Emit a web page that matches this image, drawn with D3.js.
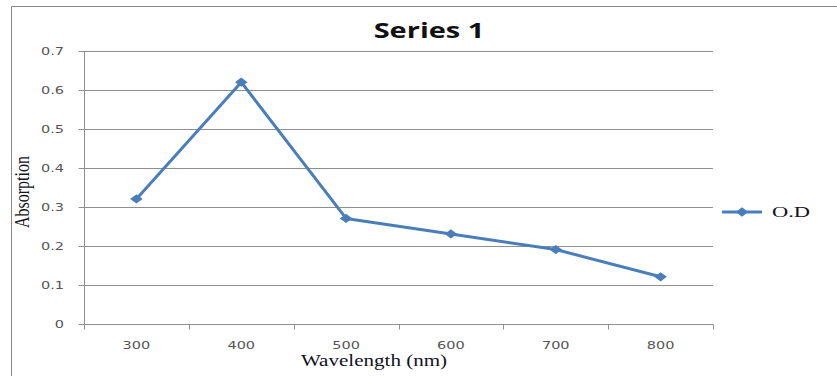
<!DOCTYPE html>
<html>
<head>
<meta charset="utf-8">
<script src="https://cdn.jsdelivr.net/npm/d3@7"></script>
<style>
  html, body { margin: 0; padding: 0; background: #fff; }
  svg { display: block; }
</style>
</head>
<body>
<svg id="chart" width="837" height="376"></svg>
<script>
// Absorption spectrum, one series
const wavelengths = ["300", "400", "500", "600", "700", "800"];
const absorption = [0.32, 0.62, 0.27, 0.23, 0.19, 0.12];
const yTicks = [0, 0.1, 0.2, 0.3, 0.4, 0.5, 0.6, 0.7];
const seriesName = "O.D";
const chartTitle = "Series 1";

(function () {
const svg = d3.select("#chart");
const plotLeft = 84, plotRight = 713, plotTop = 51, plotBottom = 323.5;
const gridColor = "#8e8e8e";
const lineColor = "#4a7ebb";
const tickFont = "DejaVu Sans, Verdana, sans-serif";
const serifFont = "Liberation Serif, Times New Roman, serif";
const stretch = 1.45; // the whole drawing is wider than tall, text included

// outer frame (left and top edges)
svg.append("path")
  .attr("d", "M11.5,376 L11.5,6.5 L837,6.5")
  .attr("fill", "none").attr("stroke", "#8a8a8a").attr("stroke-width", 1);

const x = d3.scaleBand().domain(wavelengths).range([plotLeft, plotRight]);
const y = d3.scaleLinear().domain([0, 0.7]).range([plotBottom, plotTop]);
const py = v => Math.round(y(v)) + 0.5;

// horizontal gridlines
svg.append("g").selectAll("line").data(yTicks.filter(d => d > 0)).join("line")
  .attr("x1", plotLeft).attr("x2", plotRight)
  .attr("y1", py).attr("y2", py)
  .attr("stroke", gridColor).attr("stroke-width", 1);

// y axis: ticks from the axis generator, labels drawn wide
const yAxis = d3.axisLeft(y).tickValues(yTicks).tickSize(6).tickFormat("");
const gy = svg.append("g").attr("transform", `translate(${plotLeft + 0.5},0)`).call(yAxis);
gy.selectAll("path, line").attr("stroke", gridColor);
gy.select(".domain").attr("d", `M0,${py(0.7)}V${py(0)}`);
gy.selectAll(".tick").attr("transform", d => `translate(0,${py(d)})`);

svg.append("g").selectAll("text").data(yTicks).join("text")
  .attr("transform", d => `translate(${plotLeft - 20},${py(d) + 3.5}) scale(${stretch},1)`)
  .attr("text-anchor", "end")
  .attr("font-family", tickFont).attr("font-size", 10).attr("fill", "#555")
  .text(d => d === 0 ? "0" : d3.format(".1f")(d));

// x axis with ticks at band edges
const gx = svg.append("g").attr("transform", `translate(0,${py(0)})`);
gx.append("line").attr("x1", plotLeft).attr("x2", plotRight + 0.5).attr("stroke", gridColor);
const edges = wavelengths.map(d => x(d)).concat([plotRight]);
gx.selectAll("line.tick").data(edges).join("line").attr("class", "tick")
  .attr("x1", d => Math.round(d) + 0.5).attr("x2", d => Math.round(d) + 0.5)
  .attr("y1", 0).attr("y2", 5).attr("stroke", gridColor);
gx.selectAll("text").data(wavelengths).join("text")
  .attr("transform", d => `translate(${x(d) + x.bandwidth() / 2},24) scale(${stretch},1)`)
  .attr("text-anchor", "middle")
  .attr("font-family", tickFont).attr("font-size", 10).attr("fill", "#555")
  .text(d => d);

// data line
const cx = d => x(d) + x.bandwidth() / 2;
const line = d3.line().x((d, i) => cx(wavelengths[i])).y(d => y(d));
svg.append("path").datum(absorption)
  .attr("d", line).attr("fill", "none")
  .attr("stroke", lineColor).attr("stroke-width", 3).attr("stroke-linejoin", "round");

const diamond = d3.symbol().type(d3.symbolDiamond2).size(55);
svg.append("g").selectAll("path").data(absorption).join("path")
  .attr("d", diamond)
  .attr("transform", (d, i) => `translate(${cx(wavelengths[i])},${y(d)}) scale(1.35,1)`)
  .attr("fill", lineColor);

// title
svg.append("text").attr("transform", "translate(429,38) scale(1.38,1)")
  .attr("text-anchor", "middle")
  .attr("font-family", "Open Sans, Noto Sans, sans-serif").attr("font-weight", "bold")
  .attr("font-size", 21).attr("fill", "#111").text(chartTitle);

// axis titles
svg.append("text").attr("transform", "translate(29,192) scale(1.3,1) rotate(-90)")
  .attr("text-anchor", "middle")
  .attr("font-family", serifFont)
  .attr("font-size", 16).attr("fill", "#111122").text("Absorption");
svg.append("text").attr("transform", "translate(374,366) scale(1.24,1)")
  .attr("text-anchor", "middle")
  .attr("font-family", serifFont)
  .attr("font-size", 17).attr("fill", "#111122").text("Wavelength (nm)");

// legend
const lg = svg.append("g").attr("transform", "translate(722,212)");
lg.append("line").attr("x1", 0).attr("x2", 40).attr("stroke", lineColor).attr("stroke-width", 3);
lg.append("path").attr("d", diamond).attr("transform", "translate(20,0) scale(1.35,1)").attr("fill", lineColor);
lg.append("text").attr("transform", "translate(50,5) scale(1.5,1)")
  .attr("font-family", serifFont)
  .attr("font-size", 15).attr("fill", "#111122").text(seriesName);
})();
</script>
</body>
</html>
